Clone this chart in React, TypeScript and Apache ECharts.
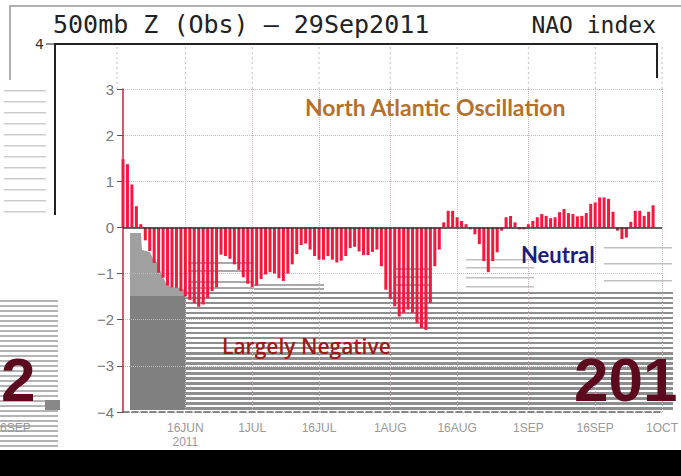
import React, { useEffect, useRef } from "react";
import * as echarts from "echarts";

// ---- data ----
const MONTHS = ["JUN", "JUL", "AUG", "SEP", "OCT"];
const MONTH_DAYS = [30, 31, 31, 30, 31];
const FIRST_DAY = 2; // axis starts on 2 JUN 2011
const AXIS_DAYS = 122; // 2 JUN .. 1 OCT
const TICK_DAYS = [1, 16];
const YEAR_LABEL = "2011";

// Daily NAO index, 2 JUN .. 29 SEP 2011
const naoValues = [
  1.48, 1.37, 0.93, 0.46, 0.07, -0.28, -0.51, -0.77, -0.98, -1.09,
  -1.26, -1.3, -1.31, -1.38, -1.49, -1.57, -1.64, -1.72, -1.67, -1.53,
  -1.38, -1.3, -0.59, -0.62, -0.68, -0.8, -0.92, -1.08, -1.22, -1.29,
  -1.26, -1.12, -1.02, -0.97, -1.0, -1.1, -1.16, -1.0, -0.8, -0.58,
  -0.38, -0.35, -0.48, -0.62, -0.7, -0.7, -0.62, -0.7, -0.76, -0.72,
  -0.62, -0.45, -0.42, -0.52, -0.6, -0.6, -0.53, -0.48, -0.84, -1.35,
  -1.55, -1.71, -1.93, -1.85, -1.78, -1.85, -2.07, -2.18, -2.22, -1.63,
  -0.84, -0.48, 0.11, 0.36, 0.36, 0.22, 0.14, 0.07, -0.04, -0.15,
  -0.36, -0.73, -0.97, -0.73, -0.54, -0.07, 0.22, 0.25, 0.11, -0.04,
  -0.04, 0.07, 0.14, 0.22, 0.29, 0.25, 0.2, 0.22, 0.33, 0.4,
  0.31, 0.29, 0.24, 0.25, 0.31, 0.51, 0.54, 0.65, 0.65, 0.62,
  0.34, -0.07, -0.25, -0.22, 0.12, 0.36, 0.36, 0.25, 0.34, 0.48,
];

const Y_MIN = -4;
const Y_MAX = 3;

const TITLE_LEFT = "500mb Z (Obs) \u2013 29Sep2011";
const TITLE_RIGHT = "NAO index";
const OLD_TICK = "4";
const HEADLINE = "North Atlantic Oscillation";
const NOTE_NEUTRAL = "Neutral";
const NOTE_NEG = "Largely Negative";
const BIG_LEFT = "2";
const BIG_RIGHT = "201";
const STRAY_LABEL = "6SEP";

// build category list (day, month)
const categories: string[] = [];
const dayNums: number[] = [];
{
  let m = 0;
  let d = FIRST_DAY;
  for (let i = 0; i < AXIS_DAYS; i++) {
    categories.push(d + MONTHS[m]);
    dayNums.push(d);
    d++;
    if (d > MONTH_DAYS[m]) {
      d = 1;
      m++;
    }
  }
}
const isTick = (i: number) => TICK_DAYS.indexOf(dayNums[i]) >= 0;
const firstTick = categories.findIndex((_, i) => isTick(i));

export default function App() {
  const ref = useRef<HTMLDivElement>(null);
  useEffect(() => {
    if (!ref.current) return;
    const chart = echarts.init(ref.current, null, { renderer: "svg" });

    const graphics: any[] = [];
    // background stripes (image artefacts) -- drawn below series
    const stripeZ = -5;
    const stripe = (x: number, y: number, w: number, h: number, fill: string) =>
      graphics.push({ type: "rect", z: stripeZ, shape: { x, y, width: w, height: h }, style: { fill } });

    graphics.push({
      type: "polygon",
      z: stripeZ,
      shape: {
        points: [
          [130, 233], [141, 233], [142, 250], [150, 252], [153, 259],
          [158, 263], [161, 273], [166, 283], [171, 287], [181, 288],
          [186, 291], [186, 296], [130, 296],
        ],
      },
      style: { fill: "#a0a0a0" },
    });
    stripe(130, 296, 56, 114, "#808080");
    for (let y = 292; y < 409; y += 5) {
      stripe(186, y, 487, y < 350 ? 2 : 3, "#8e8e8e");
    }
    // sparse lines in the upper part of the lower region
    [262, 270, 281, 287].forEach((y) => stripe(188, y, 66, 2, "#a8a8a8"));
    [284, 288].forEach((y) => stripe(254, y, 70, 2, "#a8a8a8"));
    [268, 276, 284].forEach((y) => stripe(396, y, 36, 2, "#a8a8a8"));
    [259, 267, 277, 286].forEach((y) => stripe(466, y, 68, 1.5, "#c0c0c0"));
    [247, 263, 280].forEach((y) => stripe(604, y, 68, 1.5, "#c0c0c0"));
    // left strip
    for (let y = 300; y < 446; y += 5) stripe(0, y, 58, 2, "#b4b4b4");
    for (let y = 90; y < 215; y += 11) stripe(4, y, 42, 1.5, "#cccccc");

    // old GrADS frame at top
    graphics.push({
      type: "polyline",
      shape: { points: [[10, 80], [10, 6], [681, 6]] },
      style: { stroke: "#b0b0b0", lineWidth: 2, fill: "none" },
    });
    graphics.push({
      type: "polyline",
      shape: { points: [[55, 215], [55, 44], [657, 44], [657, 78]] },
      style: { stroke: "#222", lineWidth: 2, fill: "none" },
    });
    graphics.push({
      type: "line",
      shape: { x1: 46, y1: 44, x2: 55, y2: 44 },
      style: { stroke: "#222", lineWidth: 1 },
    });
    graphics.push({
      type: "text",
      style: {
        text: OLD_TICK, x: 44, y: 44, textAlign: "right", textVerticalAlign: "middle",
        fontSize: 14, fontFamily: "DejaVu Sans", fill: "#333",
      },
    });
    graphics.push({
      type: "text",
      style: {
        text: TITLE_LEFT, x: 53, y: 12, textVerticalAlign: "top",
        fontSize: 25, fontFamily: "DejaVu Sans Mono", fill: "#222",
      },
    });
    graphics.push({
      type: "text",
      style: {
        text: TITLE_RIGHT, x: 656, y: 13, textAlign: "right", textVerticalAlign: "top",
        fontSize: 23, fontFamily: "DejaVu Sans Mono", fill: "#222",
      },
    });

    // annotations
    graphics.push({
      type: "text", z: 50,
      style: {
        text: HEADLINE, x: 305, y: 107, textVerticalAlign: "middle",
        fontSize: 23, fontFamily: "Lato", fontWeight: "bold", fill: "#b5702c",
      },
    });
    graphics.push({
      type: "text", z: 50,
      style: {
        text: NOTE_NEUTRAL, x: 521, y: 254, textVerticalAlign: "middle",
        fontSize: 22, fontFamily: "Lato", fontWeight: "bold", fill: "#1c1c80",
      },
    });
    graphics.push({
      type: "text", z: 50,
      style: {
        text: NOTE_NEG, x: 222, y: 346, textVerticalAlign: "middle",
        fontSize: 21, fontFamily: "Open Sans", fontWeight: 600, fill: "#a01818",
      },
    });
    graphics.push({
      type: "text", z: 50,
      style: {
        text: BIG_LEFT, x: 1, y: 410, textVerticalAlign: "bottom",
        fontSize: 62, fontFamily: "Liberation Sans", fontWeight: "bold", fill: "#5c0a1e",
      },
    });
    graphics.push({
      type: "rect", z: 40,
      shape: { x: 45, y: 400, width: 15, height: 10 },
      style: { fill: "#888" },
    });
    graphics.push({
      type: "text", z: 50,
      style: {
        text: BIG_RIGHT, x: 574, y: 410, textVerticalAlign: "bottom",
        fontSize: 62, fontFamily: "Liberation Sans", fontWeight: "bold", fill: "#5c0a1e",
      },
    });
    graphics.push({
      type: "text", z: 50,
      style: {
        text: STRAY_LABEL, x: 0, y: 428, textVerticalAlign: "middle",
        fontSize: 12, fontFamily: "Liberation Sans", fill: "#999",
      },
    });
    graphics.push({
      type: "rect", z: 60,
      shape: { x: 0, y: 450, width: 681, height: 26 },
      style: { fill: "#000" },
    });

    const option: any = {
      animation: false,
      grid: { left: 123, right: 8, top: 89, bottom: 64 },
      xAxis: {
        type: "category",
        data: categories,
        boundaryGap: false,
        axisLine: { show: true, onZero: false, lineStyle: { color: "#666", type: "dashed", width: 1.5 } },
        axisTick: { show: false },
        axisLabel: {
          interval: (i: number) => isTick(i),
          color: "#999",
          fontSize: 12,
          lineHeight: 14,
          fontFamily: "Liberation Sans",
          margin: 9,
          formatter: (v: string, i: number) => (i === firstTick ? v + "\n" + YEAR_LABEL : v),
        },
        splitLine: {
          show: true,
          interval: (i: number) => isTick(i),
          lineStyle: { type: "dotted", color: "#c8b8b8" },
        },
      },
      yAxis: {
        type: "value",
        min: Y_MIN,
        max: Y_MAX,
        interval: 1,
        axisLine: { show: true, lineStyle: { color: "#c8203a", width: 1.5 } },
        axisTick: { show: true, length: 6, lineStyle: { color: "#555" } },
        axisLabel: {
          color: "#777",
          fontSize: 15,
          fontFamily: "Liberation Sans",
          margin: 9,
          formatter: (v: number) => (v < 0 ? "\u2212" + -v : String(v)),
        },
        splitLine: { show: true, lineStyle: { type: "dotted", color: "#c8b8b8" } },
      },
      series: [
        {
          type: "bar",
          data: naoValues,
          barWidth: 3,
          itemStyle: { color: "#f5173d" },
          markLine: {
            silent: true,
            symbol: ["none", "none"],
            label: { show: false },
            lineStyle: { color: "#333", width: 1.5, type: "solid" },
            data: [{ yAxis: 0 }],
          },
        },
      ],
      graphic: graphics,
    };
    chart.setOption(option);

    // dotted verticals continuing up into the old frame
    const extra: any[] = [];
    const xs: number[] = [117];
    categories.forEach((c, i) => {
      if (isTick(i)) {
        const px = chart.convertToPixel({ xAxisIndex: 0 }, c) as number;
        if (px < 670) xs.push(px);
      }
    });
    xs.forEach((x) =>
      extra.push({
        type: "line",
        shape: { x1: x, y1: 47, x2: x, y2: 89 },
        style: { stroke: "#c0c0c0", lineWidth: 1, lineDash: [2, 3] },
      })
    );
    chart.setOption({ graphic: graphics.concat(extra) });

    return () => chart.dispose();
  }, []);
  return (
    <div
      ref={ref}
      style={{ position: "fixed", left: 0, top: 0, width: 681, height: 476, background: "#fff" }}
    />
  );
}
